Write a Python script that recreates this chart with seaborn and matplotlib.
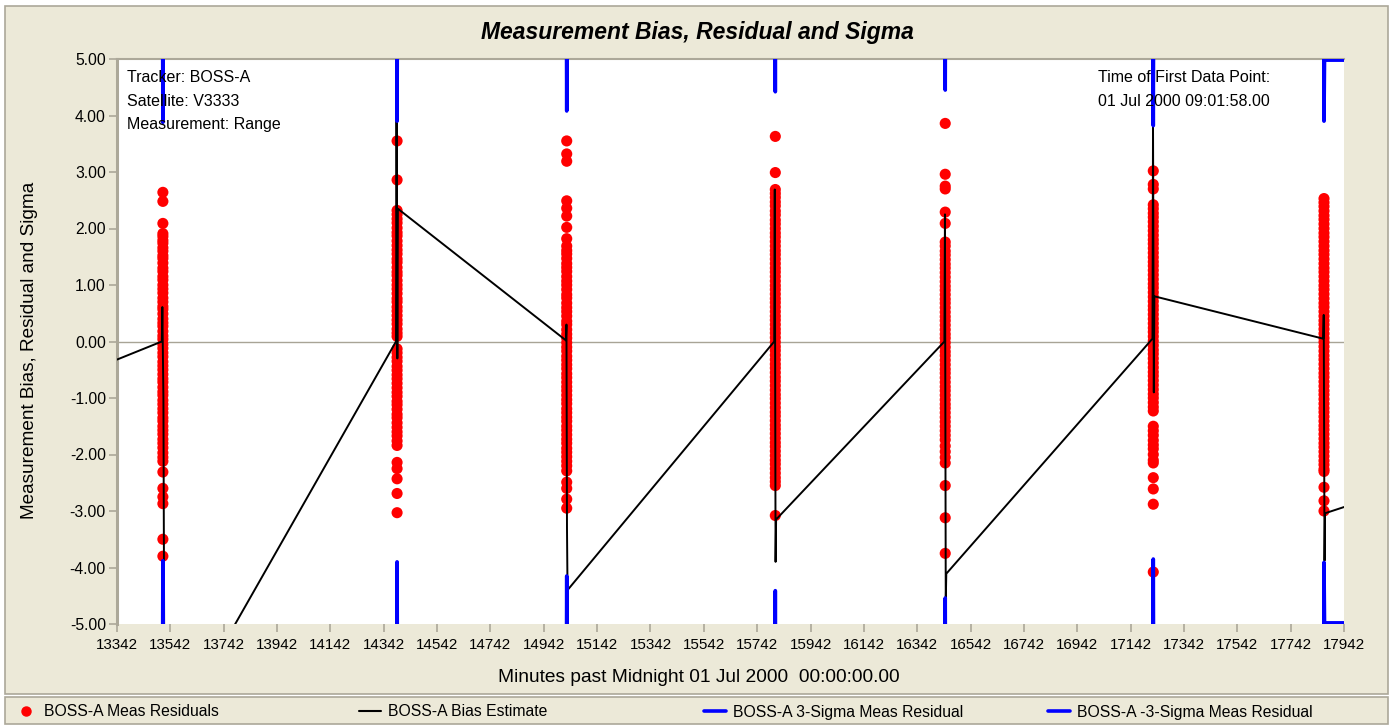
import matplotlib
matplotlib.use("Agg")
import numpy as np
import pandas as pd
import matplotlib.pyplot as plt
from matplotlib.patches import Rectangle
from matplotlib.lines import Line2D
import seaborn as sns

# ---------------- data ----------------
pass_times = [13514, 14392, 15028, 15810, 16447, 17227, 17867]

res_pass1 = [2.64, 2.48, 2.09, 1.91, 1.86, 1.79, 1.74, 1.66, 1.6, 1.52, 1.47, 1.39, 1.3, 1.24, 1.15,
             1.09, 1.0, 0.93, 0.86, 0.77, 0.7, 0.62, 0.57, 0.49, 0.4, 0.33, 0.27, 0.18, 0.1, 0.04,
             -0.05, -0.12, -0.2, -0.27, -0.36, -0.43, -0.5, -0.58, -0.66, -0.72, -0.81, -0.89, -0.95,
             -1.04, -1.11, -1.19, -1.26, -1.35, -1.41, -1.5, -1.57, -1.64, -1.73, -1.8, -1.88, -1.97,
             -2.05, -2.12, -2.31, -2.6, -2.75, -2.87, -3.5, -3.8]
res_pass2 = [3.55, 2.86, 2.32, 2.25, 2.17, 2.1, 2.01, 1.93, 1.87, 1.78, 1.7, 1.62, 1.55, 1.46, 1.4,
             1.31, 1.23, 1.17, 1.08, 1.0, 0.93, 0.85, 0.76, 0.7, 0.61, 0.54, 0.46, 0.38, 0.31, 0.22,
             0.15, 0.09, -0.13, -0.2, -0.28, -0.35, -0.44, -0.51, -0.59, -0.66, -0.74, -0.82, -0.9,
             -0.97, -1.06, -1.12, -1.2, -1.29, -1.35, -1.44, -1.52, -1.6, -1.67, -1.76, -1.84, -2.14,
             -2.25, -2.43, -2.69, -3.03]
res_pass3 = [3.55, 3.32, 3.19, 2.49, 2.36, 2.22, 2.02, 1.82, 1.69, 1.61, 1.55, 1.47, 1.38, 1.31, 1.24,
             1.15, 1.07, 1.0, 0.92, 0.83, 0.77, 0.68, 0.6, 0.53, 0.45, 0.36, 0.3, 0.21, 0.13, 0.06,
             -0.02, -0.1, -0.17, -0.26, -0.33, -0.41, -0.48, -0.57, -0.64, -0.72, -0.8, -0.87, -0.95,
             -1.03, -1.1, -1.19, -1.26, -1.34, -1.41, -1.5, -1.57, -1.65, -1.73, -1.8, -1.89, -1.96,
             -2.04, -2.12, -2.2, -2.29, -2.49, -2.6, -2.79, -2.95]
res_pass4 = [3.63, 2.99, 2.69, 2.62, 2.55, 2.47, 2.4, 2.31, 2.24, 2.15, 2.08, 2.0, 1.92, 1.85, 1.77,
             1.69, 1.61, 1.54, 1.46, 1.38, 1.3, 1.23, 1.15, 1.07, 0.99, 0.92, 0.84, 0.76, 0.69, 0.61,
             0.53, 0.45, 0.38, 0.3, 0.22, 0.15, 0.07, -0.01, -0.09, -0.16, -0.24, -0.32, -0.4, -0.47,
             -0.55, -0.63, -0.7, -0.78, -0.86, -0.94, -1.01, -1.09, -1.17, -1.25, -1.32, -1.4, -1.48,
             -1.55, -1.63, -1.71, -1.79, -1.86, -1.94, -2.02, -2.1, -2.17, -2.25, -2.33, -2.41, -2.48,
             -2.55, -3.08]
res_pass5 = [3.86, 2.96, 2.75, 2.7, 2.29, 2.09, 1.76, 1.69, 1.6, 1.53, 1.45, 1.37, 1.3, 1.22, 1.14,
             1.06, 0.98, 0.91, 0.83, 0.75, 0.68, 0.6, 0.52, 0.44, 0.37, 0.29, 0.21, 0.13, 0.06, -0.02,
             -0.1, -0.18, -0.25, -0.33, -0.41, -0.49, -0.56, -0.64, -0.72, -0.8, -0.87, -0.95, -1.03,
             -1.11, -1.18, -1.26, -1.34, -1.42, -1.5, -1.58, -1.66, -1.74, -1.85, -1.95, -2.05, -2.15,
             -2.55, -3.12, -3.75]
res_pass6 = [3.02, 2.78, 2.7, 2.42, 2.35, 2.27, 2.2, 2.12, 2.04, 1.96, 1.88, 1.8, 1.73, 1.65, 1.57,
             1.49, 1.41, 1.34, 1.26, 1.18, 1.1, 1.02, 0.95, 0.87, 0.79, 0.71, 0.63, 0.56, 0.48, 0.4,
             0.32, 0.24, 0.17, 0.09, 0.01, -0.07, -0.15, -0.22, -0.3, -0.38, -0.46, -0.54, -0.61,
             -0.69, -0.77, -0.85, -0.93, -1.0, -1.08, -1.16, -1.23, -1.5, -1.58, -1.66, -1.75, -1.83,
             -1.9, -2.0, -2.1, -2.15, -2.41, -2.61, -2.88, -4.08]
res_pass7 = [2.53, 2.46, 2.39, 2.31, 2.23, 2.16, 2.08, 2.0, 1.92, 1.85, 1.77, 1.69, 1.61, 1.54, 1.46,
             1.38, 1.3, 1.23, 1.15, 1.07, 0.99, 0.92, 0.84, 0.76, 0.68, 0.61, 0.53, 0.45, 0.37, 0.3,
             0.22, 0.14, 0.06, -0.01, -0.09, -0.17, -0.25, -0.32, -0.4, -0.48, -0.56, -0.63, -0.71,
             -0.79, -0.87, -0.94, -1.02, -1.1, -1.18, -1.25, -1.33, -1.41, -1.49, -1.56, -1.64, -1.72,
             -1.8, -1.87, -1.95, -2.03, -2.11, -2.18, -2.26, -2.3, -2.58, -2.82, -3.0]

bias_t = [13342, 13510, 13512, 13516, 13518, 13520,
          14388, 14390, 14393, 14395,
          15025, 15027, 15029, 15031,
          15806, 15808, 15811, 15813,
          16444, 16446, 16449, 16451,
          17224, 17226, 17229, 17231,
          17864, 17866, 17869, 17871, 17942]
bias_v = [-0.32, 0.0, 0.61, -1.0, -3.9, -7.2,
          0.0, 3.9, -0.3, 2.35,
          0.02, 0.3, -3.3, -4.4,
          0.0, 2.69, -3.9, -3.15,
          0.0, 2.25, -4.6, -4.11,
          0.05, 3.82, -0.9, 0.8,
          0.05, 0.47, -3.88, -3.04, -2.93]

sig_pass = [1, 1, 1, 2, 2, 2, 3, 3, 3, 4, 4, 4, 5, 5, 5, 6, 6, 6, 7, 7, 7, 7]
sig_t = [13511, 13514, 13517, 14389, 14392, 14395, 15025, 15028, 15031, 15807, 15810, 15813,
         16444, 16447, 16450, 17224, 17227, 17230, 17864, 17867, 17869, 17942]
sig_plus = [9.0, 3.88, 9.0, 9.0, 3.9, 9.0, 9.0, 4.08, 9.0, 9.0, 4.42, 9.0,
            9.0, 4.45, 9.0, 9.0, 3.82, 9.0, 9.0, 3.9, 4.98, 4.98]
sig_minus = [-9.0, -3.88, -9.0, -9.0, -3.9, -9.0, -9.0, -4.15, -9.0, -9.0, -4.41, -9.0,
             -9.0, -4.54, -9.0, -9.0, -3.85, -9.0, -9.0, -3.91, -4.98, -4.98]

x_ticks = [13342, 13542, 13742, 13942, 14142, 14342, 14542, 14742, 14942, 15142, 15342, 15542,
           15742, 15942, 16142, 16342, 16542, 16742, 16942, 17142, 17342, 17542, 17742, 17942]
y_ticks = [5.0, 4.0, 3.0, 2.0, 1.0, 0.0, -1.0, -2.0, -3.0, -4.0, -5.0]
y_tick_labels = ["5.00", "4.00", "3.00", "2.00", "1.00", "0.00", "-1.00", "-2.00", "-3.00", "-4.00", "-5.00"]

legend_labels = ["BOSS-A Meas Residuals", "BOSS-A Bias Estimate",
                 "BOSS-A 3-Sigma Meas Residual", "BOSS-A -3-Sigma Meas Residual"]

# ---------------- tables ----------------
res_lists = [res_pass1, res_pass2, res_pass3, res_pass4, res_pass5, res_pass6, res_pass7]
res_df = pd.DataFrame({
    "t": [pass_times[i] for i, r in enumerate(res_lists) for _ in r],
    "v": [v for r in res_lists for v in r],
})
bias_df = pd.DataFrame({"t": bias_t, "v": bias_v})
sig_df = pd.DataFrame({"pass": sig_pass, "t": sig_t, "plus": sig_plus, "minus": sig_minus})

# ---------------- style ----------------
sns.set_style("white")
plt.rcParams['font.family'] = ['Liberation Sans', 'DejaVu Sans']
plt.rcParams['text.color'] = 'black'
plt.rcParams['axes.labelcolor'] = 'black'

W, H = 1392, 725
BEIGE = '#ECE9D8'
EDGE = '#ACA899'
fig = plt.figure(figsize=(W / 100, H / 100), dpi=100, facecolor='white')


def fx(px):
    return px / W


def fy(py):
    return 1 - py / H


fig.patches.append(Rectangle((fx(5), fy(694)), fx(1388) - fx(5), fy(6) - fy(694),
                             transform=fig.transFigure, facecolor=BEIGE, edgecolor=EDGE,
                             lw=1.2, zorder=-5))
fig.patches.append(Rectangle((fx(5), fy(724)), fx(1388) - fx(5), fy(697) - fy(724),
                             transform=fig.transFigure, facecolor=BEIGE, edgecolor=EDGE,
                             lw=1.2, zorder=-5))

ax = fig.add_axes([fx(117), fy(624), fx(1344) - fx(117), fy(59) - fy(624)])
ax.set_zorder(1)
ax.set_facecolor('white')

ax.axhline(0, color='#A8A496', lw=1.0, zorder=1)

sns.scatterplot(data=res_df, x="t", y="v", color='#FF0000', s=64, edgecolor='none',
                linewidth=0, ax=ax, zorder=2, legend=False)
sns.lineplot(data=bias_df, x="t", y="v", sort=False, estimator=None, color='black',
             lw=1.4, ax=ax, zorder=3, legend=False)
sns.lineplot(data=sig_df, x="t", y="plus", units="pass", sort=False, estimator=None,
             color='#0000FF', lw=2.6, ax=ax, zorder=4, legend=False)
sns.lineplot(data=sig_df, x="t", y="minus", units="pass", sort=False, estimator=None,
             color='#0000FF', lw=2.6, ax=ax, zorder=4, legend=False)

ax.set_xlim(13342, 17942)
ax.set_ylim(-5, 5)
ax.set_xticks(x_ticks)
ax.set_xticklabels([str(t) for t in x_ticks])
ax.set_yticks(y_ticks)
ax.set_yticklabels(y_tick_labels)
ax.tick_params(axis='both', direction='out', length=6, width=1.2, color='#ACA899',
               labelcolor='black', pad=3, bottom=True, left=True)
ax.tick_params(axis='x', labelsize=10.9, pad=4)
ax.tick_params(axis='y', labelsize=11.3, pad=2)
ax.spines['right'].set_visible(False)
ax.spines['bottom'].set_visible(False)
ax.spines['left'].set_color('#ACA899')
ax.spines['left'].set_linewidth(2.2)
ax.spines['top'].set_color('#ACA899')
ax.spines['top'].set_linewidth(1.5)

ax.set_xlabel("Minutes past Midnight 01 Jul 2000  00:00:00.00", fontsize=13.8)
ax.xaxis.set_label_coords((699 - 117) / 1227, (624 - 677) / 565)
ax.xaxis.label.set_va('center')
ax.set_ylabel("Measurement Bias, Residual and Sigma", fontsize=13.7)
ax.yaxis.set_label_coords((30 - 117) / 1227, (624 - 350) / 565)
ax.yaxis.label.set_va('center')

for i, txt in enumerate(["Tracker: BOSS-A", "Satellite: V3333", "Measurement: Range"]):
    ax.text((127 - 117) / 1227, (624 - (78 + 23 * i)) / 565, txt, transform=ax.transAxes,
            fontsize=11.5, va='center', ha='left', zorder=5)
for i, txt in enumerate(["Time of First Data Point:", "01 Jul 2000 09:01:58.00"]):
    ax.text((1098 - 117) / 1227, (624 - (78 + 23 * i)) / 565, txt, transform=ax.transAxes,
            fontsize=11.5, va='center', ha='left', zorder=5)

fig.text(fx(697), fy(32), "Measurement Bias, Residual and Sigma", fontsize=16.5,
         fontweight='bold', fontstyle='italic', ha='center', va='center')

# ---------------- legend ----------------
handles = [
    Line2D([], [], marker='o', linestyle='none', color='#FF0000', markersize=6.5),
    Line2D([], [], color='black', lw=1.5),
    Line2D([], [], color='#0000FF', lw=2.6),
    Line2D([], [], color='#0000FF', lw=2.6),
]
leg_x = [15, 359, 704, 1048]
for h, lab, x0 in zip(handles, legend_labels, leg_x):
    fig.legend([h], [lab], loc='center left', bbox_to_anchor=(fx(x0), fy(712)),
               frameon=False, fontsize=11.3, handlelength=1.4, handletextpad=0.45,
               borderpad=0, borderaxespad=0)

fig.savefig("out.png", dpi=100, facecolor=fig.get_facecolor())
